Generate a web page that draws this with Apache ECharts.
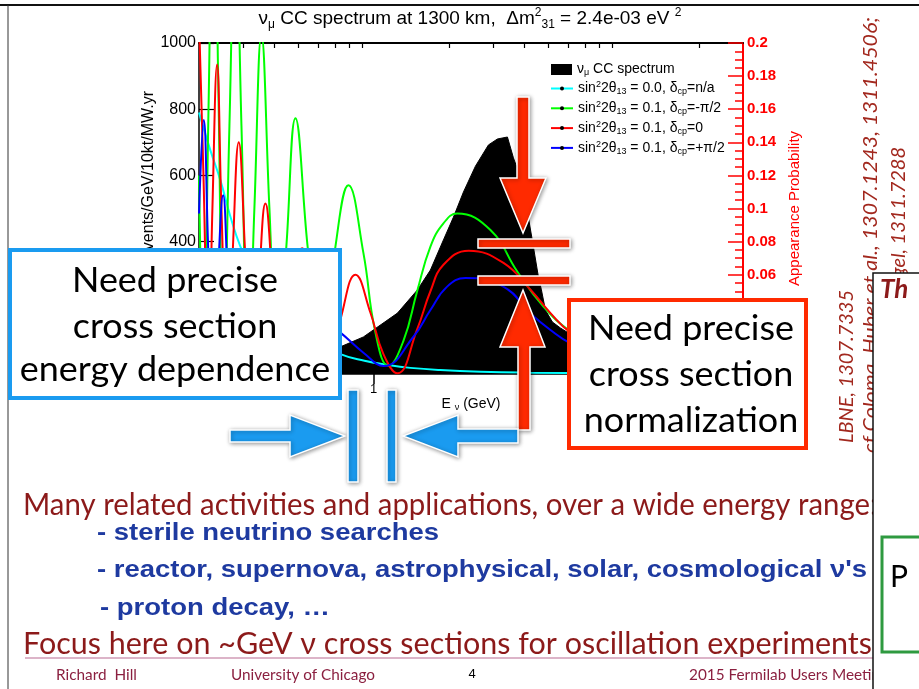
<!DOCTYPE html>
<html><head><meta charset="utf-8">
<script src="https://cdn.jsdelivr.net/npm/echarts@6/dist/echarts.min.js"></script>
<style>html,body{margin:0;padding:0;background:#fff;overflow:hidden}#c{width:919px;height:689px}</style>
</head><body><div id="c"></div>
<script>
// ---------------- data ----------------
// nu_mu CC spectrum: energy (GeV) and events/GeV/10kt/MW.yr
const specE = [0.2, 0.3212, 0.5091, 0.7358, 0.9095, 1.2441, 1.495, 1.6856, 1.9002, 2.084, 2.2856, 2.552, 2.876, 3.124, 3.426, 3.621, 3.862, 4.119, 4.353, 4.558, 4.686, 4.862, 5.186, 5.582, 6.009, 8.07, 12.79, 20.27, 30];
const specN = [3, 12, 40, 82, 112, 184, 254, 314, 405, 474, 550, 628, 692, 710, 716, 653, 595, 490, 384, 293, 254, 193, 157, 139, 124, 88, 57, 36, 24];

// sin^2 2theta13 = 0.0
const cyanE = [0.2, 0.2223, 0.2436, 0.2672, 0.2929, 0.3212, 0.3521, 0.3861, 0.4234, 0.4644, 0.5091, 0.612, 0.7358, 0.918, 1.145, 1.402, 1.848, 2.672, 4.236, 8.072, 12.79, 30];
const cyanP = [0.158, 0.135, 0.117, 0.095, 0.077, 0.065, 0.055, 0.047, 0.039, 0.033, 0.028, 0.019, 0.012, 0.008, 0.0054, 0.0037, 0.0024, 0.0014, 0.0008, 0.0004, 0.0003, 0.0001];

// sin^2 2theta13 = 0.1, delta = -pi/2
const greenE = [0.2, 0.2084, 0.2183, 0.2286, 0.2392, 0.2505, 0.2647, 0.2797, 0.2957, 0.3154, 0.3331, 0.3554, 0.3826, 0.4119, 0.4476, 0.4862, 0.543, 0.6177, 0.659, 0.7027, 0.7921, 0.9095, 1.0158, 1.145, 1.3146, 1.4915, 1.6856, 1.9002, 2.1563, 2.9302, 3.7563, 4.7753, 6.1235, 8.0724, 12.79, 20.27, 30];
const greenP = [0.12, 0.01, 0.16, 0.33, 0.17, 0.008, 0.15, 0.28, 0.15, 0.004, 0.10, 0.205, 0.10, 0.002, 0.078, 0.1545, 0.078, 0.001, 0.035, 0.077, 0.114, 0.073, 0.025, 0.005, 0.02, 0.05, 0.077, 0.091, 0.097, 0.087, 0.0618, 0.0407, 0.0256, 0.015, 0.006, 0.003, 0.0015];

// sin^2 2theta13 = 0.1, delta = 0
const redE = [0.2, 0.2084, 0.2183, 0.2263, 0.2363, 0.2459, 0.2599, 0.2721, 0.2884, 0.3067, 0.3242, 0.3457, 0.3687, 0.397, 0.4312, 0.473, 0.5172, 0.5738, 0.6409, 0.69, 0.7358, 0.8449, 0.9701, 1.0934, 1.2441, 1.4915, 1.6856, 1.9002, 2.3988, 3.3036, 4.2364, 5.0933, 6.1235, 8.0724, 12.79, 20.27, 30];
const redP = [0.215, 0.12, 0.005, 0.10, 0.187, 0.10, 0.004, 0.07, 0.140, 0.07, 0.003, 0.052, 0.103, 0.05, 0.002, 0.038, 0.076, 0.038, 0.001, 0.015, 0.033, 0.060, 0.037, 0.012, 0.0004, 0.027, 0.050, 0.066, 0.0745, 0.0671, 0.0509, 0.0368, 0.025, 0.015, 0.006, 0.003, 0.0015];

// sin^2 2theta13 = 0.1, delta = +pi/2
const blueE = [0.2, 0.2089, 0.2172, 0.2263, 0.237, 0.2498, 0.2611, 0.2746, 0.2889, 0.3039, 0.3198, 0.3362, 0.3554, 0.3756, 0.4007, 0.4273, 0.458, 0.4907, 0.5307, 0.5738, 0.6234, 0.6837, 0.7358, 0.912, 1.096, 1.4414, 1.6856, 1.9661, 2.3281, 3.3113, 4.2364, 5.0933, 6.1235, 8.0724, 12.79, 20.27, 30];
const blueP = [0.097, 0.1535, 0.08, 0.003, 0.055, 0.108, 0.055, 0.003, 0.037, 0.072, 0.036, 0.002, 0.026, 0.052, 0.026, 0.002, 0.019, 0.038, 0.019, 0.001, 0.014, 0.028, 0.025, 0.0127, 0.0048, 0.0225, 0.0387, 0.0528, 0.058, 0.0527, 0.0366, 0.0266, 0.0185, 0.011, 0.0045, 0.002, 0.001];

const xMinorTicks = [0.3, 0.4, 0.5, 0.6, 0.7, 0.8, 0.9, 2, 3, 4, 5, 6, 7, 8, 9, 20];
const xMajorTicks = [1, 10];
const xLabels = [1, 10];
const seriesNames = ['spec', 'c0', 'gm', 'r0', 'bp'];
const legendLabels = {
  spec: '{t|ν}{sb|μ}{t| CC spectrum}',
  c0: '{t|sin}{sp|2}{t|2θ}{sb|13}{t| = 0.0, δ}{sb|cp}{t|=n/a}',
  gm: '{t|sin}{sp|2}{t|2θ}{sb|13}{t| = 0.1, δ}{sb|cp}{t|=-π/2}',
  r0: '{t|sin}{sp|2}{t|2θ}{sb|13}{t| = 0.1, δ}{sb|cp}{t|=0}',
  bp: '{t|sin}{sp|2}{t|2θ}{sb|13}{t| = 0.1, δ}{sb|cp}{t|=+π/2}'
};
const titleText = '{t|ν}{sb|μ}{t| CC spectrum at 1300 km,  Δm}{sp|2}{sb|31}{t| = 2.4e-03 eV }{sp|2}';
const xName = '{t|E }{sb|ν}{t| (GeV)}';
const yName = 'Events/GeV/10kt/MW.yr';
const y2Name = 'Appearance Probability';

// ---------------- chart ----------------
const FONT = '"Liberation Sans", Arial, sans-serif';
const zip = (a, b) => a.map((v, i) => [v, b[i]]);
const mk = (fs, lh, va) => ({fontSize: fs, fontFamily: FONT, fontWeight: 'normal', color: '#000', lineHeight: lh, verticalAlign: va});
const legRich = {t: mk(14, 16, 'middle'), sp: mk(9, 8, 'top'), sb: mk(9, 8, 'bottom')};
const titleRich = {t: mk(19, 24, 'middle'), sp: mk(12, 12, 'top'), sb: mk(12, 12, 'bottom')};
const nameRich = {t: mk(14, 16, 'middle'), sb: mk(9, 8, 'bottom')};

const chart = echarts.init(document.getElementById('c'), null, {renderer: 'canvas', width: 919, height: 689});

function lineSeries(name, E, P, color) {
  return {name, type: 'line', xAxisIndex: 0, yAxisIndex: 1, data: zip(E, P),
    symbol: 'circle', symbolSize: 4, showSymbol: false, smooth: 0.45,
    lineStyle: {color, width: 2}, itemStyle: {color: '#000'}, silent: true, z: 3};
}

// text fitting helper
const mctx = document.createElement('canvas').getContext('2d');
function tw(text, font) { mctx.font = font; return mctx.measureText(text).width; }
function T(text, x, y, font, fill, opts) {
  opts = opts || {};
  const align = opts.align || 'left';
  return {type: 'text', x, y, z: opts.z || 100, rotation: opts.rotation || 0,
    scaleX: opts.scale || 1,
    style: {text, x: 0, y: 0, font, fill, align, verticalAlign: 'middle', textAlign: align, textVerticalAlign: 'middle'}};
}
const RED = '#ff2a00', BLUE = '#1a9bf0';
const arrowStyle = c => ({fill: c, stroke: '#fff', lineWidth: 1.5, shadowBlur: 4, shadowColor: 'rgba(0,0,0,0.4)', shadowOffsetX: 1, shadowOffsetY: 1});

const G = [];
// slide frame
G.push({type: 'line', z: 100, shape: {x1: 0, y1: 5, x2: 919, y2: 5}, style: {stroke: '#111', lineWidth: 2}});
G.push({type: 'line', z: 100, shape: {x1: 8, y1: 5, x2: 8, y2: 689}, style: {stroke: '#333', lineWidth: 1}});
// y axis title (ROOT style, right aligned to top)
G.push(T(yName, 149, 91, '16px ' + FONT, '#000', {align: 'right', rotation: Math.PI / 2, z: 50}));

// blue callout
const calloutFont = '34px Lato';
const cs = 206 / tw('Need precise', calloutFont);
G.push({type: 'rect', z: 100, shape: {x: 10, y: 250, width: 330, height: 148}, style: {fill: '#fff', stroke: BLUE, lineWidth: 4}});
G.push(T('Need precise', 175, 281, calloutFont, '#000', {align: 'center', scale: cs, z: 101}));
G.push(T('cross section', 175, 327, calloutFont, '#000', {align: 'center', scale: cs, z: 101}));
G.push(T('energy dependence', 175, 370, calloutFont, '#000', {align: 'center', scale: cs, z: 101}));
// red callout
G.push({type: 'rect', z: 100, shape: {x: 569, y: 300, width: 237, height: 148}, style: {fill: '#fff', stroke: RED, lineWidth: 4}});
G.push(T('Need precise', 691, 329, calloutFont, '#000', {align: 'center', scale: cs, z: 101}));
G.push(T('cross section', 691, 375, calloutFont, '#000', {align: 'center', scale: cs, z: 101}));
G.push(T('normalization', 691, 421, calloutFont, '#000', {align: 'center', scale: cs, z: 101}));

// red arrows and bars
G.push({type: 'polygon', z: 102, shape: {points: [[517, 97], [529, 97], [529, 178], [546, 178], [523, 233], [500, 178], [517, 178]]}, style: arrowStyle(RED)});
G.push({type: 'rect', z: 102, shape: {x: 478, y: 239, width: 92, height: 9}, style: arrowStyle(RED)});
G.push({type: 'rect', z: 102, shape: {x: 478, y: 276, width: 92, height: 9}, style: arrowStyle(RED)});
G.push({type: 'polygon', z: 102, shape: {points: [[523, 290], [545, 347], [530, 347], [530, 430], [518, 430], [518, 347], [500, 347]]}, style: arrowStyle(RED)});
// blue arrows and bars
G.push({type: 'polygon', z: 102, shape: {points: [[230, 430], [290, 430], [290, 415], [345, 436], [290, 457], [290, 442], [230, 442]]}, style: arrowStyle(BLUE)});
G.push({type: 'polygon', z: 102, shape: {points: [[518, 429], [458, 429], [458, 415], [403, 436], [458, 457], [458, 443], [518, 443]]}, style: arrowStyle(BLUE)});
G.push({type: 'rect', z: 102, shape: {x: 348, y: 390, width: 10, height: 92}, style: arrowStyle(BLUE)});
G.push({type: 'rect', z: 102, shape: {x: 387, y: 390, width: 9, height: 92}, style: arrowStyle(BLUE)});

// bullet text
const DR = '#8c1a1a', DB = '#1e3aa0';
const bigFont = '30px Lato';
const s1 = 847 / tw('Many related activities and applications, over a wide energy range', bigFont);
G.push(T('Many related activities and applications, over a wide energy range:', 23, 505, bigFont, DR, {scale: s1}));
const s2 = 849 / tw('Focus here on ~GeV ν cross sections for oscillation experiments', bigFont);
G.push(T('Focus here on ~GeV ν cross sections for oscillation experiments', 23, 644, bigFont, DR, {scale: s2}));
const bFont = 'bold 24px "Liberation Sans Narrow", "Liberation Sans", Arial, sans-serif';
const s3 = 770 / tw("- reactor, supernova, astrophysical, solar, cosmological ν's", bFont);
G.push(T('- sterile neutrino searches', 97, 533, bFont, DB, {scale: s3}));
G.push(T("- reactor, supernova, astrophysical, solar, cosmological ν's", 97, 570, bFont, DB, {scale: s3}));
G.push(T('- proton decay, …', 100, 608, bFont, DB, {scale: s3}));
// footer
G.push({type: 'line', z: 100, shape: {x1: 25, y1: 658, x2: 873, y2: 658}, style: {stroke: '#dcb4c8', lineWidth: 2}});
const fFont = '15px Lato', FC = '#8b2040';
const s4 = 144 / tw('University of Chicago', fFont);
G.push(T('Richard  Hill', 56, 675, fFont, FC, {scale: s4}));
G.push(T('University of Chicago', 231, 675, fFont, FC, {scale: s4}));
G.push(T('4', 472, 674, '13px ' + FONT, '#000', {align: 'center'}));
G.push(T('2015 Fermilab Users Meeting', 689, 675, fFont, FC, {scale: s4}));

// rotated citations
const cFont = 'italic 19px Lato', CC = '#a2281e';
const s5 = 153 / tw('LBNE, 1307.7335', cFont);
G.push(T('LBNE, 1307.7335', 847, 443, cFont, CC, {rotation: Math.PI / 2, scale: s5}));
const c2 = 'cf Coloma, Huber et al., 1307.1243, 1311.4506;';
G.push(T(c2, 871, 17, cFont, CC, {align: 'right', rotation: Math.PI / 2, scale: 436 / tw(c2, cFont)}));
G.push(T('Qian & Vogel, 1311.7288', 899, 147, cFont, CC, {align: 'right', rotation: Math.PI / 2, scale: s5}));

// next-slide panel at the right edge
G.push({type: 'rect', z: 110, shape: {x: 873, y: 273, width: 60, height: 430}, style: {fill: '#fff', stroke: '#111', lineWidth: 1.5}});
G.push(T('Th', 880, 290, 'italic bold 26px Lato', DR, {z: 111}));
G.push({type: 'rect', z: 111, shape: {x: 882, y: 537, width: 60, height: 115}, style: {fill: '#fff', stroke: '#2e9a40', lineWidth: 3}});
G.push(T('P', 890, 577, '30px Lato', '#000', {z: 112}));

const option = {
  animation: false,
  backgroundColor: '#fff',
  title: {text: titleText, left: 470, top: 7, textAlign: 'center', padding: 0,
    textStyle: {fontWeight: 'normal', fontFamily: FONT, fontSize: 19, color: '#000', rich: titleRich}},
  grid: {left: 199, top: 43, width: 544, height: 331, containLabel: false},
  legend: [
    {data: [{name: seriesNames[0], icon: 'rect'}], left: 551, top: 62.5, padding: 0, orient: 'vertical',
      itemWidth: 21, itemHeight: 11, selectedMode: false, formatter: n => legendLabels[n], textStyle: {rich: legRich}},
    {data: seriesNames.slice(1), left: 550, top: 80.5, padding: 0, orient: 'vertical', itemGap: 3.8,
      itemWidth: 22, itemHeight: 5, selectedMode: false, formatter: n => legendLabels[n], textStyle: {rich: legRich}}
  ],
  xAxis: [
    {type: 'log', logBase: 10, min: 0.2, max: 30, position: 'bottom',
      axisLine: {show: true, onZero: false, lineStyle: {color: '#000', width: 1.5}},
      axisTick: {show: true, inside: true, length: 6, customValues: xMinorTicks.concat(xMajorTicks), lineStyle: {color: '#000'}},
      axisLabel: {show: true, customValues: xLabels, fontSize: 13, color: '#000', fontFamily: FONT, margin: 9},
      splitLine: {show: false},
      name: xName, nameLocation: 'middle', nameGap: 19, nameTextStyle: {rich: nameRich}},
    {type: 'log', logBase: 10, min: 0.2, max: 30, position: 'top',
      axisLine: {show: true, onZero: false, lineStyle: {color: '#000', width: 2}},
      axisTick: {show: true, inside: true, length: 5, customValues: xMinorTicks, lineStyle: {color: '#000', width: 1.2}},
      axisLabel: {show: false}, splitLine: {show: false}},
    {type: 'log', logBase: 10, min: 0.2, max: 30, position: 'top',
      axisLine: {show: false},
      axisTick: {show: true, inside: true, length: 10, customValues: xMajorTicks, lineStyle: {color: '#000', width: 1.5}},
      axisLabel: {show: false}, splitLine: {show: false}}
  ],
  yAxis: [
    {type: 'value', min: 0, max: 1000, interval: 200, position: 'left',
      axisLine: {show: true, lineStyle: {color: '#000', width: 1.5}},
      axisTick: {show: true, inside: true, length: 15, lineStyle: {color: '#000', width: 1.2}},
      axisLabel: {fontSize: 16, color: '#000', fontFamily: FONT, margin: 3, formatter: v => String(v)},
      splitLine: {show: false}},
    {type: 'value', min: 0, max: 0.2, interval: 0.02, position: 'right',
      axisLine: {show: true, lineStyle: {color: '#ff0000', width: 2}},
      axisTick: {show: true, inside: true, length: 15, lineStyle: {color: '#ff0000', width: 1.5}},
      minorTick: {show: true, splitNumber: 4, length: 8, lineStyle: {color: '#ff0000', width: 1.5}},
      axisLabel: {fontSize: 15, fontWeight: 'bold', color: '#ff0000', fontFamily: FONT, margin: 4},
      splitLine: {show: false}, minorSplitLine: {show: false},
      name: y2Name, nameLocation: 'middle', nameRotate: 90, nameGap: 41,
      nameTextStyle: {color: '#ff0000', fontSize: 15, fontFamily: FONT}}
  ],
  series: [
    {name: seriesNames[0], type: 'line', xAxisIndex: 0, yAxisIndex: 0, data: zip(specE, specN),
      symbol: 'none', showSymbol: false, lineStyle: {color: '#000', width: 1}, itemStyle: {color: '#000'},
      areaStyle: {color: '#000', opacity: 1}, silent: true, z: 2},
    lineSeries(seriesNames[1], cyanE, cyanP, '#00ffff'),
    lineSeries(seriesNames[2], greenE, greenP, '#00ff00'),
    lineSeries(seriesNames[3], redE, redP, '#ff0000'),
    lineSeries(seriesNames[4], blueE, blueP, '#0000ff')
  ],
  graphic: {elements: G}
};
chart.setOption(option);
</script>
</body></html>
